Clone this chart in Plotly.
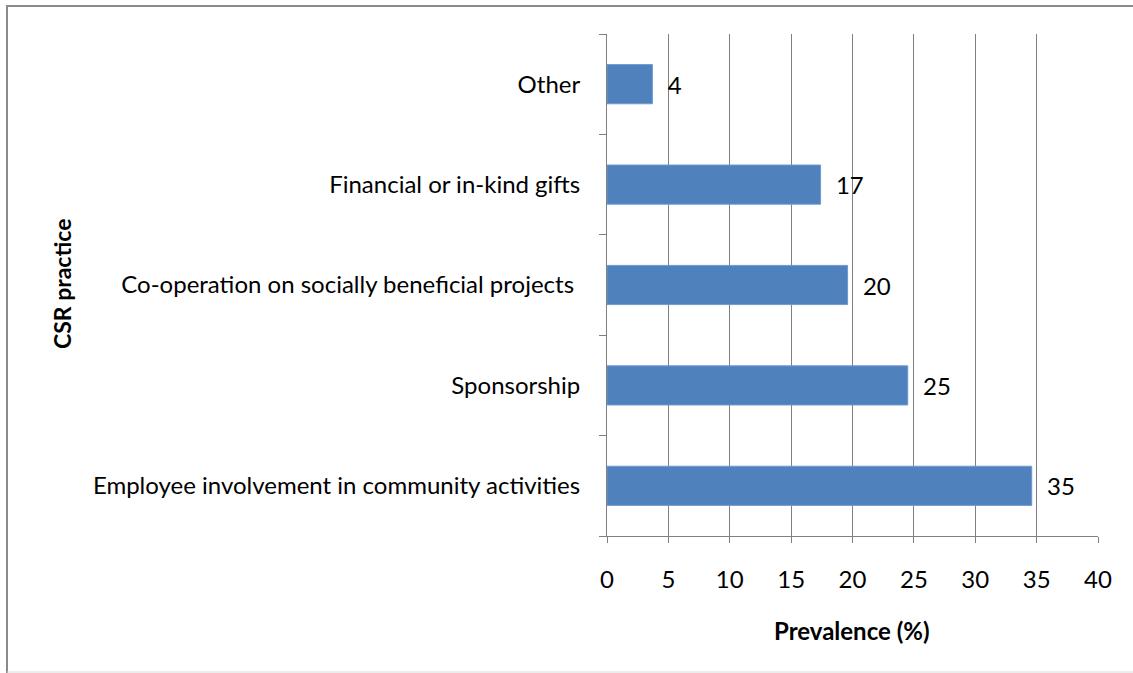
import plotly.graph_objects as go

categories = [
    "Employee involvement in community activities",
    "Sponsorship",
    "Co-operation on socially beneficial projects ",
    "Financial or in-kind gifts",
    "Other",
]
values = [34.6, 24.5, 19.6, 17.4, 3.7]
labels = ["35", "25", "20", "17", "4"]
x_ticks = [0, 5, 10, 15, 20, 25, 30, 35, 40]

W, H = 1133, 673
L, R, T, B = 607, 35, 34, 137
pw, ph = W - L - R, H - T - B

def px(xpix):
    return (xpix - L) / pw

def py(ypix):
    return (H - B - ypix) / ph

FONT = "Lato, 'Open Sans', sans-serif"
FS = 24
GRID = "#808080"

fig = go.Figure(
    go.Bar(
        y=categories,
        x=values,
        orientation="h",
        marker=dict(color="#4F81BD", line=dict(color="#6F9AD0", width=1)),
        text=labels,
        texttemplate="\u00a0\u00a0%{text}",
        textposition="outside",
        textfont=dict(family=FONT, size=FS, color="#000000"),
        cliponaxis=False,
        width=0.39,
    )
)

fig.update_layout(
    width=W,
    height=H,
    margin=dict(l=L, r=R, t=T, b=B, autoexpand=False),
    paper_bgcolor="#ffffff",
    plot_bgcolor="#ffffff",
    showlegend=False,
    font=dict(family=FONT, size=FS, color="#000000"),
    uniformtext=dict(minsize=FS, mode="show"),
    xaxis=dict(
        range=[0, 40],
        tickvals=x_ticks,
        ticktext=[str(v) for v in x_ticks],
        showgrid=True,
        gridcolor=GRID,
        gridwidth=1,
        showline=True,
        linecolor=GRID,
        linewidth=1,
        ticks="outside",
        ticklen=6,
        tickcolor=GRID,
        tickfont=dict(family=FONT, size=FS),
        ticklabelstandoff=16,
        zeroline=False,
        fixedrange=True,
        automargin=False,
    ),
    yaxis=dict(
        categoryorder="array",
        categoryarray=categories,
        showgrid=False,
        showline=True,
        linecolor=GRID,
        linewidth=1,
        ticks="outside",
        tickson="boundaries",
        ticklen=7,
        tickcolor=GRID,
        tickfont=dict(family=FONT, size=FS),
        ticklabelstandoff=21,
        automargin=False,
        fixedrange=True,
    ),
    annotations=[
        dict(
            text="<b>Prevalence (%)</b>",
            xref="paper", yref="paper",
            x=px(852), y=py(630),
            showarrow=False,
            font=dict(family=FONT, size=FS),
            xanchor="center", yanchor="middle",
        ),
        dict(
            text="<b>CSR practice</b>",
            xref="paper", yref="paper",
            x=px(62), y=py(284),
            showarrow=False,
            textangle=-90,
            font=dict(family=FONT, size=FS - 1),
            xanchor="center", yanchor="middle",
        ),
    ],
    shapes=[
        dict(type="line", xref="paper", yref="paper",
             x0=px(7), x1=px(7), y0=py(5), y1=py(673),
             line=dict(color="#8a8a8a", width=2)),
        dict(type="line", xref="paper", yref="paper",
             x0=px(6), x1=px(1133), y0=py(6), y1=py(6),
             line=dict(color="#8a8a8a", width=2)),
        dict(type="line", xref="paper", yref="paper",
             x0=px(7), x1=px(1133), y0=py(672), y1=py(672),
             line=dict(color="#d9d9d9", width=1)),
    ],
)

fig.write_html(
    "out.html",
    config={"displayModeBar": False, "staticPlot": True},
    post_script="document.body.style.margin='0';document.body.style.padding='0';",
)
